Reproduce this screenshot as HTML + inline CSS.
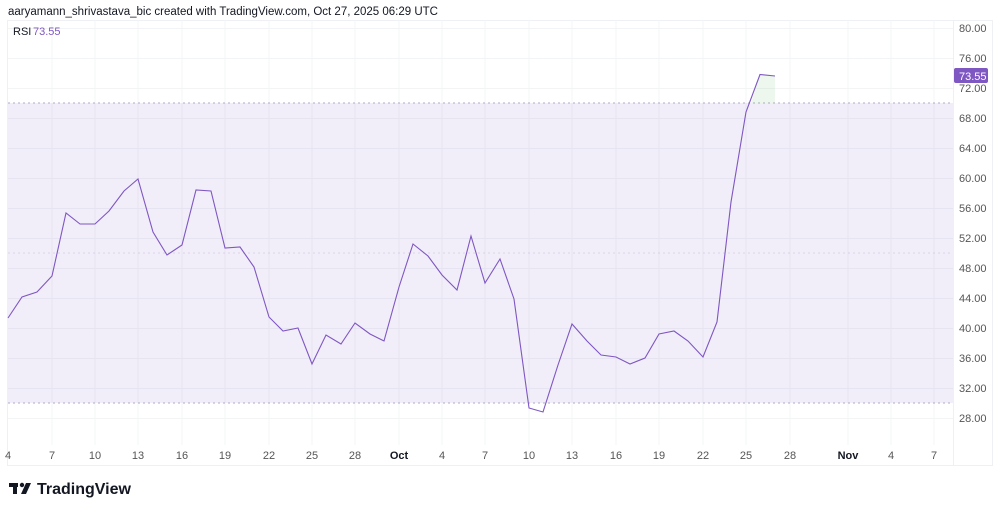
<!DOCTYPE html>
<html><head><meta charset="utf-8"><style>
body{margin:0;background:#fff;width:1000px;height:511px;overflow:hidden;font-family:"Liberation Sans",sans-serif}
</style></head><body>
<svg width="1000" height="511" xmlns="http://www.w3.org/2000/svg" font-family="Liberation Sans, sans-serif">
<text x="8" y="15" font-size="11.5" fill="#131722">aaryamann_shrivastava_bic created with TradingView.com, Oct 27, 2025 06:29 UTC</text>
<rect x="7.5" y="20.5" width="985" height="445" fill="none" stroke="#eef0f3"/>
<line x1="953.5" y1="20" x2="953.5" y2="465" stroke="#eef0f3"/>
<g stroke="#f3f4f6" stroke-width="1">
<line x1="8" y1="28.5" x2="953" y2="28.5"/><line x1="8" y1="58.5" x2="953" y2="58.5"/><line x1="8" y1="88.5" x2="953" y2="88.5"/><line x1="8" y1="118.5" x2="953" y2="118.5"/><line x1="8" y1="148.5" x2="953" y2="148.5"/><line x1="8" y1="178.5" x2="953" y2="178.5"/><line x1="8" y1="208.5" x2="953" y2="208.5"/><line x1="8" y1="238.5" x2="953" y2="238.5"/><line x1="8" y1="268.5" x2="953" y2="268.5"/><line x1="8" y1="298.5" x2="953" y2="298.5"/><line x1="8" y1="328.5" x2="953" y2="328.5"/><line x1="8" y1="358.5" x2="953" y2="358.5"/><line x1="8" y1="388.5" x2="953" y2="388.5"/><line x1="8" y1="418.5" x2="953" y2="418.5"/>
<line x1="52" y1="20" x2="52" y2="445"/><line x1="95" y1="20" x2="95" y2="445"/><line x1="138" y1="20" x2="138" y2="445"/><line x1="182" y1="20" x2="182" y2="445"/><line x1="225" y1="20" x2="225" y2="445"/><line x1="269" y1="20" x2="269" y2="445"/><line x1="312" y1="20" x2="312" y2="445"/><line x1="355" y1="20" x2="355" y2="445"/><line x1="399" y1="20" x2="399" y2="445"/><line x1="442" y1="20" x2="442" y2="445"/><line x1="485" y1="20" x2="485" y2="445"/><line x1="529" y1="20" x2="529" y2="445"/><line x1="572" y1="20" x2="572" y2="445"/><line x1="616" y1="20" x2="616" y2="445"/><line x1="659" y1="20" x2="659" y2="445"/><line x1="703" y1="20" x2="703" y2="445"/><line x1="746" y1="20" x2="746" y2="445"/><line x1="790" y1="20" x2="790" y2="445"/><line x1="848" y1="20" x2="848" y2="445"/><line x1="891" y1="20" x2="891" y2="445"/><line x1="934" y1="20" x2="934" y2="445"/>
</g>
<rect x="8" y="103" width="945" height="300" fill="#7e57c2" fill-opacity="0.1"/>
<line x1="8" y1="103" x2="953" y2="103" stroke="#b2a9c8" stroke-dasharray="2,3"/>
<line x1="8" y1="403" x2="953" y2="403" stroke="#b2a9c8" stroke-dasharray="2,3"/>
<line x1="8" y1="253" x2="953" y2="253" stroke="#c8c0dc" stroke-dasharray="2,3" stroke-opacity="0.6"/>
<polygon points="751,103 760,74.5 775,76 775,103" fill="#4caf50" fill-opacity="0.1"/>
<polyline fill="none" stroke="#7e57c2" stroke-width="1.1" points="8,318 22,297 37,292 52,276 66,213 80,224 95,224 109,211 124,191 138,179 153,232 167,255 182,245 196,190 211,191 225,248 240,247 254,267 269,317 283,331 298,328 312,364 326,335 341,344 355,323 370,334 384,341 399,287 413,244 428,256 442,275 457,290 471,236 485,283 500,259 514,299 529,408 543,412 558,365 572,324 587,341 601,355 616,357 630,364 645,358 659,334 674,331 688,341 703,357 717,322 731,202 746,112 760,74.5 775,76"/>
<text x="13" y="35" font-size="11" fill="#131722">RSI</text>
<text x="33" y="35" font-size="11" fill="#7e57c2">73.55</text>
<g font-size="11" fill="#555" text-anchor="start">
<text x="959" y="32">80.00</text><text x="959" y="62">76.00</text><text x="959" y="92">72.00</text><text x="959" y="122">68.00</text><text x="959" y="152">64.00</text><text x="959" y="182">60.00</text><text x="959" y="212">56.00</text><text x="959" y="242">52.00</text><text x="959" y="272">48.00</text><text x="959" y="302">44.00</text><text x="959" y="332">40.00</text><text x="959" y="362">36.00</text><text x="959" y="392">32.00</text><text x="959" y="422">28.00</text>
</g>
<rect x="954" y="68" width="34" height="15" rx="2" fill="#7e57c2"/>
<text x="959" y="80" font-size="11" fill="#fff">73.55</text>
<g font-size="11" fill="#555" text-anchor="middle">
<text x="8" y="459">4</text><text x="52" y="459">7</text><text x="95" y="459">10</text><text x="138" y="459">13</text><text x="182" y="459">16</text><text x="225" y="459">19</text><text x="269" y="459">22</text><text x="312" y="459">25</text><text x="355" y="459">28</text><text x="399" y="459" font-weight="bold" fill="#131722">Oct</text><text x="442" y="459">4</text><text x="485" y="459">7</text><text x="529" y="459">10</text><text x="572" y="459">13</text><text x="616" y="459">16</text><text x="659" y="459">19</text><text x="703" y="459">22</text><text x="746" y="459">25</text><text x="790" y="459">28</text><text x="848" y="459" font-weight="bold" fill="#131722">Nov</text><text x="891" y="459">4</text><text x="934" y="459">7</text>
</g>
<g fill="#131722">
<rect x="9" y="483" width="9" height="4"/><rect x="13" y="483" width="4" height="11"/>
<circle cx="22" cy="485" r="2.2"/>
<polygon points="26,483 31,483 26,494 21,494"/>
</g>
<text x="37" y="494" font-size="16" font-weight="bold" fill="#131722">TradingView</text>
</svg>
</body></html>
